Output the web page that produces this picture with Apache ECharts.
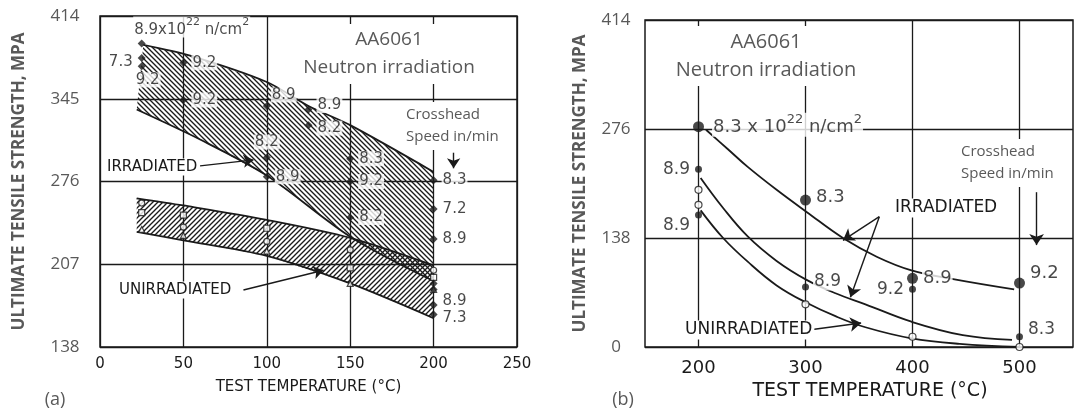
<!DOCTYPE html>
<html><head><meta charset="utf-8">
<script src="https://cdn.jsdelivr.net/npm/echarts@6/dist/echarts.min.js"></script>
<style>html,body{margin:0;padding:0;background:#fff}#c{width:1076px;height:414px}</style>
</head><body><div id="c"></div>
<script>
// ---------------- Panel (a) data ----------------
const xTicksA = [0, 50, 100, 150, 200, 250];
const yTicksA = [138, 207, 276, 345, 414];
const irrUpperA   = [[26,390],[54,381],[100,359],[125,339],[150,323],[200,284]];
const irrLowerA   = [[22,336],[60,311],[100,281],[150,230],[200,193]];
const unirrUpperA = [[22,262],[50,256],[100,244],[150,229],[200,206]];
const unirrLowerA = [[22,234],[50,227],[100,214],[150,191],[200,162]];
const irrPointsA  = [[25,391],[25,379],[25,372],[50,375],[50,344],[100,339],[100,296],[100,280],[125,336],[125,323],[150,295],[150,276],[150,246],[200,277],[200,253],[200,228],[200,191],[200,186],[200,173],[200,165]];
const irrLabelsA  = ['{n|8.9x10}{s|22}{n| n/cm}{s|2}','7.3','9.2','9.2','9.2','8.9','8.2','8.9','8.9','8.2','8.3','9.2','8.2','8.3','7.2','8.9','','','8.9','7.3'];
const circlesA    = [[25,258],[50,238],[100,226],[150,219],[200,202]];
const squaresA    = [[25,250],[50,248],[100,237],[150,204],[200,196]];
const trianglesA  = [[25,236],[50,231],[100,218],[150,191],[200,186]];
const arrowsA     = [[[60,289],[92,294]], [[86,185.5],[134,202]], [[212,300],[212,287]]];

// ---------------- Panel (b) data ----------------
const xTicksB = [200, 300, 400, 500];
const yTicksB = [0, 138, 276, 414];
const curveTopB = [[207,275],[227,251],[246,228],[273,199],[301,171],[335,138],[367,114],[399,97],[438,86],[495,73]];
const curveMidB = [[202,214],[223,176],[246,140],[273,109],[301,85],[328,68],[356,54],[399,32],[447,15],[493,9]];
const curveLowB = [[202,173],[223,138],[246,108],[273,78],[301,56],[328,39],[356,25],[399,11],[444,4],[500,0]];
const bigDotsB   = [[200,279],[300,186],[400,87],[500,81]];
const bigLabelsB = ['{n|8.3 x 10}{s|22}{n| n/cm}{s|2}','8.3','8.9','9.2'];
const smallDotsB   = [[200,225],[200,167],[300,76],[400,73],[500,13]];
const smallLabelsB = ['8.9','8.9','8.9','9.2','8.3'];
const openDotsB  = [[200,199],[200,180],[300,54],[400,13],[500,0]];
const arrowsB = [[[369,165],[335,135]], [[369,165],[342,63]], [[303,21.5],[352,30.4]], [[516,196],[516,129]]];

// ---------------- styling / build ----------------
const black = '#1a1a1a', gray = '#595959';
const figFont = 'DejaVu Sans', grayFont = 'Open Sans';

function hatch(down){
  const s = 5, c = document.createElement('canvas'); c.width = s; c.height = s;
  const g = c.getContext('2d'); g.strokeStyle = black; g.lineWidth = 1.35; g.beginPath();
  if (down) {
    g.moveTo(-1,-1); g.lineTo(s+1,s+1);
    g.moveTo(-1,s-1); g.lineTo(1,s+1);
    g.moveTo(s-1,-1); g.lineTo(s+1,1);
  } else {
    g.moveTo(-1,s+1); g.lineTo(s+1,-1);
    g.moveTo(-1,1); g.lineTo(1,-1);
    g.moveTo(s-1,s+1); g.lineTo(s+1,s-1);
  }
  g.stroke(); return c;
}
const patDown = hatch(true), patUp = hatch(false);

function band(upper, lower, pat){
  return {type:'custom', xAxisIndex:0, yAxisIndex:0, data:[0], silent:true, z:1,
    renderItem(params, api){
      const pts = upper.map(p => api.coord(p)).concat(lower.slice().reverse().map(p => api.coord(p)));
      return {type:'polygon', shape:{points:pts}, style:{fill:{image:pat, repeat:'repeat'}, stroke:null}};
    }};
}
function curve(data, gi, smooth){
  return {type:'line', xAxisIndex:gi, yAxisIndex:gi, data, smooth:smooth, symbol:'none',
    lineStyle:{color:black, width:1.8}, silent:true, z:3};
}
const lblBase = (size, sup) => ({show:true, color:black, fontFamily:figFont, fontSize:size, distance:4,
  backgroundColor:'#fff', padding:[0,1],
  rich:{n:{fontFamily:figFont, fontSize:size, color:black, lineHeight:size+6, verticalAlign:'bottom'},
        s:{fontFamily:figFont, fontSize:sup, color:black, lineHeight:sup, verticalAlign:'top'}}});

const placeA = [
  {position:'top', offset:[50,2]}, {position:'left', offset:[0,4]}, {position:'bottom', offset:[6,-2]},
  {position:'right'}, {position:'right'}, {position:'right', offset:[-4,-11]}, {position:'top'},
  {position:'right'}, {position:'right', offset:[0,-4]}, {position:'right', offset:[0,3]},
  {position:'right'}, {position:'right'}, {position:'right'}, {position:'right'}, {position:'right'},
  {position:'right'}, {position:'right'}, {position:'right'}, {position:'right', offset:[0,-4]}, {position:'right', offset:[0,3]}
];
const placeBigB = [{position:'right', offset:[4,-2]}, {position:'right', offset:[0,-3]}, {position:'right'}, {position:'right', offset:[0,-10]}];
const placeSmallB = [{position:'left'}, {position:'left', offset:[0,10]}, {position:'right', offset:[0,-5]}, {position:'left'}, {position:'right', offset:[0,-7]}];

function pts(values, labels, place){
  return values.map((v,i) => ({value:v, label: labels && labels[i] ? Object.assign({formatter: labels[i]}, place[i]) : {show:false}}));
}
function openMarks(data, symbol, gi, size){
  return {type:'scatter', xAxisIndex:gi, yAxisIndex:gi, data, symbol, symbolSize:size, z:5,
    itemStyle:{color:'#fff', borderColor:black, borderWidth:1.2}, silent:true};
}
function arrows(list, gi, size){
  return {type:'line', xAxisIndex:gi, yAxisIndex:gi, data:[], silent:true,
    markLine:{silent:true, symbol:['none','arrow'], symbolSize:size, animation:false,
      label:{show:false}, lineStyle:{color:black, width:1.4, type:'solid'},
      data: list.map(a => [{coord:a[0]}, {coord:a[1]}])}};
}

const series = [
  band(irrUpperA, irrLowerA, patDown),
  band(unirrUpperA, unirrLowerA, patUp),
  curve(irrUpperA, 0, 0.3), curve(irrLowerA, 0, 0.3), curve(unirrUpperA, 0, 0.3), curve(unirrLowerA, 0, 0.3),
  openMarks(circlesA, 'circle', 0, 6), openMarks(squaresA, 'rect', 0, 6), openMarks(trianglesA, 'triangle', 0, 6),
  {type:'scatter', xAxisIndex:0, yAxisIndex:0, symbol:'diamond', symbolSize:8, z:6, silent:true,
    itemStyle:{color:black}, label:lblBase(15, 11), data: pts(irrPointsA, irrLabelsA, placeA)},
  arrows(arrowsA, 0, 10),
  curve(curveTopB, 1, 0.4), curve(curveMidB, 1, 0.4), curve(curveLowB, 1, 0.4),
  openMarks(openDotsB, 'circle', 1, 7),
  {type:'scatter', xAxisIndex:1, yAxisIndex:1, symbol:'circle', symbolSize:11, z:6, silent:true,
    itemStyle:{color:black}, label:lblBase(18, 13), data: pts(bigDotsB, bigLabelsB, placeBigB)},
  {type:'scatter', xAxisIndex:1, yAxisIndex:1, symbol:'circle', symbolSize:7, z:6, silent:true,
    itemStyle:{color:black}, label:lblBase(17, 12), data: pts(smallDotsB, smallLabelsB, placeSmallB)},
  arrows(arrowsB, 1, 11)
];

const splitBlack = {show:true, lineStyle:{color:black, width:1.3}};
const option = {
  animation:false,
  backgroundColor:'#fff',
  grid:[
    {left:100, top:16, width:417, height:331, show:true, borderColor:black, borderWidth:1.5, backgroundColor:'transparent'},
    {left:645, top:20, width:438, height:327, show:true, borderColor:black, borderWidth:1.5, backgroundColor:'transparent'}
  ],
  xAxis:[
    {gridIndex:0, type:'value', min:xTicksA[0], max:xTicksA[xTicksA.length-1], interval:50,
     axisLine:{show:false}, axisTick:{show:false}, splitLine:splitBlack,
     axisLabel:{color:black, fontFamily:figFont, fontSize:15, margin:10},
     name:'TEST TEMPERATURE (°C)', nameLocation:'middle', nameGap:33,
     nameTextStyle:{color:black, fontFamily:figFont, fontSize:15}},
    {gridIndex:1, type:'value', min:150, max:550, interval:50,
     axisLine:{show:false}, axisTick:{show:false},
     splitLine:{show:true, lineStyle:{color:['rgba(0,0,0,0)', black], width:1.3}},
     axisLabel:{color:black, fontFamily:figFont, fontSize:18, margin:12,
       formatter: v => xTicksB.indexOf(v) >= 0 ? String(v) : ''},
     name:'TEST TEMPERATURE (°C)', nameLocation:'middle', nameGap:35,
     nameTextStyle:{color:black, fontFamily:figFont, fontSize:19, padding:[0,0,0,22]}}
  ],
  yAxis:[
    {gridIndex:0, type:'value', min:yTicksA[0], max:yTicksA[yTicksA.length-1], interval:69,
     axisLine:{show:false}, axisTick:{show:false}, splitLine:splitBlack,
     axisLabel:{color:gray, fontFamily:grayFont, fontSize:17, margin:35, align:'center'},
     name:'ULTIMATE TENSILE STRENGTH, MPA', nameLocation:'middle', nameGap:72, nameRotate:90,
     nameTextStyle:{color:gray, fontFamily:grayFont, fontSize:17, fontWeight:'bold'}},
    {gridIndex:1, type:'value', min:yTicksB[0], max:yTicksB[yTicksB.length-1], interval:138,
     axisLine:{show:false}, axisTick:{show:false}, splitLine:splitBlack,
     axisLabel:{color:gray, fontFamily:grayFont, fontSize:17, margin:29, align:'center'},
     name:'ULTIMATE TENSILE STRENGTH, MPA', nameLocation:'middle', nameGap:56, nameRotate:90,
     nameTextStyle:{color:gray, fontFamily:grayFont, fontSize:17, fontWeight:'bold'}}
  ],
  graphic:[
    {type:'text', x:389, y:54, z:100, style:{text:'AA6061\nNeutron irradiation', font:'19px "Open Sans"', fill:gray, align:'center', verticalAlign:'middle', lineHeight:28, backgroundColor:'#fff', padding:[2,6]}},
    {type:'text', x:403, y:126, z:100, style:{text:'Crosshead\nSpeed in/min', font:'15px "Open Sans"', fill:gray, align:'left', verticalAlign:'middle', lineHeight:22, backgroundColor:'#fff', padding:[2,3]}},
    {type:'text', x:105, y:167, z:100, style:{text:'IRRADIATED', font:'15px "DejaVu Sans"', fill:black, align:'left', verticalAlign:'middle', backgroundColor:'#fff', padding:[1,2]}},
    {type:'text', x:117, y:290, z:100, style:{text:'UNIRRADIATED', font:'15px "DejaVu Sans"', fill:black, align:'left', verticalAlign:'middle', backgroundColor:'#fff', padding:[1,2]}},
    {type:'text', x:55, y:400, z:100, style:{text:'(a)', font:'18px "Open Sans"', fill:gray, align:'center', verticalAlign:'middle'}},
    {type:'text', x:766, y:56, z:100, style:{text:'AA6061\nNeutron irradiation', font:'20px "Open Sans"', fill:gray, align:'center', verticalAlign:'middle', lineHeight:28, backgroundColor:'#fff', padding:[2,6]}},
    {type:'text', x:958, y:163, z:100, style:{text:'Crosshead\nSpeed in/min', font:'15px "Open Sans"', fill:gray, align:'left', verticalAlign:'middle', lineHeight:22, backgroundColor:'#fff', padding:[2,3]}},
    {type:'text', x:893, y:208, z:100, style:{text:'IRRADIATED', font:'17px "DejaVu Sans"', fill:black, align:'left', verticalAlign:'middle', backgroundColor:'#fff', padding:[1,2]}},
    {type:'text', x:683, y:330, z:100, style:{text:'UNIRRADIATED', font:'17px "DejaVu Sans"', fill:black, align:'left', verticalAlign:'middle', backgroundColor:'#fff', padding:[1,2]}},
    {type:'text', x:623, y:400, z:100, style:{text:'(b)', font:'18px "Open Sans"', fill:gray, align:'center', verticalAlign:'middle'}}
  ],
  series
};
const chart = echarts.init(document.getElementById('c'));
chart.setOption(option);
</script>
</body></html>
